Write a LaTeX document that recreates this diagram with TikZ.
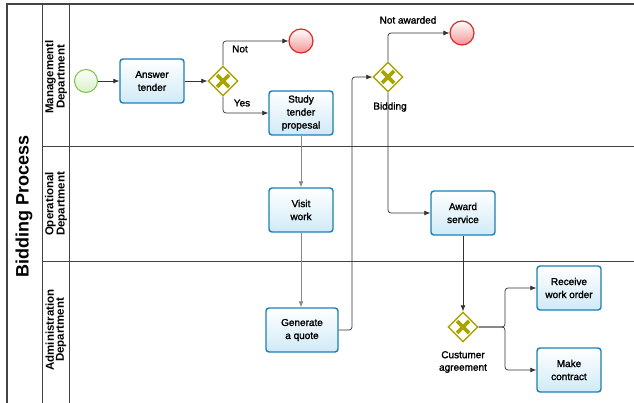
\documentclass[tikz,border=0pt]{standalone}
\usepackage{fontspec}
\setmainfont{Liberation Sans}
\newfontfamily\semibold[FakeBold=1.6]{Liberation Sans}
\usetikzlibrary{shapes.geometric,arrows.meta}
\definecolor{taskborder}{HTML}{1B7FB5}
\definecolor{taskfill}{HTML}{D0EAF7}
\definecolor{gwcol}{HTML}{A8A500}
\definecolor{startborder}{HTML}{7CC444}
\definecolor{startfill}{HTML}{D8F0C4}
\definecolor{endborder}{HTML}{D42B2B}
\definecolor{endfill}{HTML}{F29494}
\definecolor{lanecol}{HTML}{444444}
\definecolor{flowcol}{HTML}{333333}
\definecolor{flowlight}{HTML}{8A8A8A}
\tikzset{
  task/.style={draw=taskborder, line width=1.4pt, rounded corners=3pt, top color=white, bottom color=taskfill,
    minimum width=64pt, minimum height=44pt, align=center, font=\semibold\fontsize{10}{13}\selectfont, inner sep=1pt},
  startev/.style={circle, draw=startborder, line width=1pt, top color=white, bottom color=startfill, minimum size=23pt, inner sep=0pt},
  endev/.style={circle, draw=endborder, line width=1.2pt, top color=white, bottom color=endfill, minimum size=24pt, inner sep=0pt},
  gateway/.style={diamond, draw=gwcol, line width=1.4pt, fill=white, minimum size=30pt, inner sep=0pt,
    path picture={\draw[gwcol, line width=3.6pt] ([shift={(-6pt,-6pt)}]path picture bounding box.center) -- ([shift={(6pt,6pt)}]path picture bounding box.center)
      ([shift={(-6pt,6pt)}]path picture bounding box.center) -- ([shift={(6pt,-6pt)}]path picture bounding box.center);}},
  flow/.style={draw=flowcol, line width=0.7pt, -{Latex[length=6pt,width=5pt]}, rounded corners=3pt},
  flowlt/.style={flow, draw=flowlight, line width=0.9pt},
  lbl/.style={font=\semibold\fontsize{10}{12.5}\selectfont, align=center, inner sep=1pt},
  lanelbl/.style={rotate=90, font=\bfseries\fontsize{11.5}{10}\selectfont, align=center},
  laneline/.style={draw=lanecol, line width=0.9pt}
}
\begin{document}
\begin{tikzpicture}[x=1pt, y=-1pt]
\useasboundingbox (0,0) rectangle (634,403);
% frame and lanes
\draw[draw=lanecol, line width=1.3pt] (7,403) -- (7,4) -- (634,4);
\draw[laneline] (42,4) -- (42,403);
\draw[laneline] (69,4) -- (69,403);
\draw[laneline] (42,146) -- (634,146);
\draw[laneline] (42,261) -- (634,261);
\node[rotate=90, font=\bfseries\fontsize{18}{20}\selectfont] (title) at (24,206) {Bidding Process};
\node[lanelbl] (l1) at (56,77) {Managementl\\Department};
\node[lanelbl] (l2) at (56,204) {Operational\\Department};
\node[lanelbl] (l3) at (56,330) {Administration\\Department};
% nodes
\node[startev] (start) at (86,81) {};
\node[task] (answer) at (152,81) {Answer\\tender};
\node[gateway] (g1) at (223,81) {};
\node[endev] (end1) at (301,41) {};
\node[task] (study) at (301,113) {Study\\tender\\propesal};
\node[task] (visit) at (301,210) {Visit\\work};
\node[task, minimum width=72pt] (gen) at (302,330) {Generate\\a quote};
\node[gateway] (g2) at (388,77) {};
\node[endev] (end2) at (462,33) {};
\node[task] (award) at (463,213) {Award\\service};
\node[gateway] (g3) at (463,327) {};
\node[task] (receive) at (569,288) {Receive\\work order};
\node[task] (contract) at (569,370) {Make\\contract};
% labels
\node[lbl] (lnot) at (240,49) {Not};
\node[lbl] (lyes) at (242,103) {Yes};
\node[lbl] (lnaw) at (408,20) {Not awarded};
\node[lbl] (lbid) at (390,107) {Bidding};
\node[lbl] (lcus) at (463,362) {Custumer\\agreement};
% flows
\draw[flow] (start) -- (answer);
\draw[flow] (answer) -- (g1);
\draw[flow] (g1.north) |- (end1.west);
\draw[flow] (g1.south) |- (study.west);
\draw[flowlt] (study.south) -- (visit.north);
\draw[flowlt] (visit.south) -- (visit.south |- gen.north);
\coordinate (bend) at (352,77);
\draw[flow] (gen.east) -| (bend) -- (g2.west);
\draw[flow] (g2.north) |- (end2.west);
\draw[flow] (g2.south) |- (award.west);
\draw[flow] (award.south) -- (g3.north);
\coordinate (split) at (505,327);
\draw[flow] (g3.east) -- (split) |- (receive.west);
\draw[flow] (g3.east) -- (split) |- (contract.west);
\end{tikzpicture}
\end{document}
